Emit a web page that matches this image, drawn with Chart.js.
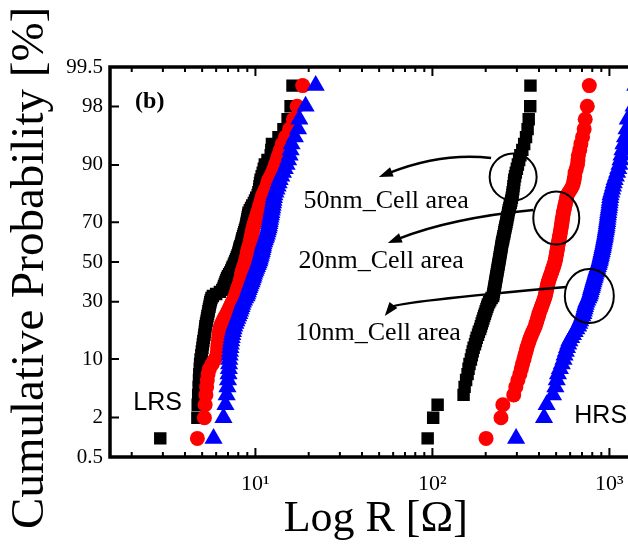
<!DOCTYPE html>
<html><head><meta charset="utf-8">
<script src="https://cdn.jsdelivr.net/npm/chart.js@4.4.1/dist/chart.umd.min.js"></script>
<style>
html,body{margin:0;padding:0;background:#fff;overflow:hidden;width:628px;height:546px}
#wrap{position:absolute;left:0;top:0;width:652px;height:546px}
</style>
</head><body>
<div id="wrap"><canvas id="c" width="652" height="546"></canvas></div>
<script>
// ---- Data: resistance values (ohm), sorted; cumulative probability from rank i/(n+1)
const lrsBlack = [2.9,4.7,4.72,4.75,4.78,4.8,4.82,4.85,4.87,4.9,4.95,4.98,5.02,5.05,5.08,5.12,5.15,5.18,5.2,5.22,
5.26,5.3,5.33,5.36,5.4,5.43,5.46,5.5,5.53,5.56,5.6,5.65,5.75,6.0,6.3,6.5,6.6,6.65,6.72,6.78,
6.85,6.92,7.0,7.1,7.2,7.3,7.38,7.45,7.55,7.62,7.7,7.78,7.85,7.92,8.0,8.05,8.1,8.15,8.22,8.3,
8.35,8.4,8.45,8.52,8.58,8.65,8.72,8.8,8.85,8.9,8.95,9.0,9.05,9.1,9.15,9.3,9.45,9.6,9.8,9.95,
10.1,10.3,10.4,10.5,10.55,10.62,10.7,10.85,11.0,11.15,11.3,11.7,12.2,12.3,12.4,13.5,14.4,15.2,15.8,16.2];
const lrsRed = [4.7,5.15,5.2,5.25,5.3,5.35,5.4,5.5,5.7,5.9,6.05,6.1,6.12,6.15,6.18,6.2,6.23,6.26,6.3,6.35,
6.45,6.55,6.65,6.78,6.9,7.0,7.1,7.2,7.3,7.4,7.5,7.6,7.7,7.77,7.84,7.9,7.97,8.05,8.12,8.2,
8.24,8.28,8.32,8.36,8.4,8.47,8.53,8.6,8.67,8.73,8.8,8.85,8.9,8.95,9.0,9.05,9.1,9.15,9.22,9.3,
9.35,9.4,9.45,9.5,9.55,9.6,9.65,9.7,9.78,9.86,9.95,10.03,10.12,10.2,10.3,10.4,10.5,10.6,10.7,10.8,
10.9,11.0,11.2,11.4,11.6,11.75,11.9,12.2,12.5,12.75,13.0,13.25,13.5,13.85,14.2,14.8,15.6,16.4,17.2,18.5];
const lrsBlue = [5.8,6.6,6.77,6.88,6.95,7.0,7.05,7.08,7.1,7.12,7.15,7.18,7.22,7.26,7.3,7.35,7.4,7.46,7.52,7.6,
7.7,7.8,7.9,8.0,8.1,8.18,8.26,8.34,8.42,8.5,8.62,8.75,8.9,8.98,9.06,9.14,9.22,9.3,9.4,9.5,
9.58,9.66,9.74,9.82,9.9,10.0,10.1,10.2,10.3,10.4,10.5,10.57,10.64,10.71,10.78,10.85,10.92,10.98,11.04,11.1,
11.2,11.3,11.4,11.5,11.6,11.68,11.76,11.85,11.92,11.98,12.04,12.1,12.17,12.24,12.3,12.37,12.44,12.51,12.58,12.65,
12.72,12.8,12.98,13.16,13.34,13.52,13.7,14.0,14.3,14.65,15.0,15.3,15.6,15.8,16.0,16.7,17.4,17.7,19.2,21.9];
const hrsBlack = [94,101,107,150,152,155,158,160,162,165,167,169,171,174,176,178,181,183,186,188,
190,192,194,196,198,200,202,204,206,209,212,216,220,221,222,223,224,225,226,227,
228,229,230,231,232,233,234,235,236,237,238,239,240,241,242,243,244,245,246,247,
248,250,251,252,254,255,256,258,259,261,262,264,265,267,268,270,272,274,277,279,
281,283,284,286,287,289,290,293,296,300,304,309,314,322,330,338,345,350,357,358];
const hrsRed = [201,244,250,288,296,304,312,318,323,329,333,338,342,347,352,357,363,369,375,381,
385,389,393,397,400,404,409,413,418,422,426,430,434,436,439,441,444,446,449,451,
455,459,463,467,472,475,479,483,487,490,494,496,498,500,503,505,507,509,511,513,
516,518,521,523,526,528,531,533,535,538,540,542,544,547,549,553,557,561,565,569,
573,577,590,605,618,626,632,636,640,650,660,664,668,680,690,705,720,730,750,770];
const hrsBlue = [297,427,442,480,495,504,512,525,538,550,558,567,576,585,594,608,622,636,650,665,
675,684,694,703,712,717,723,728,734,740,750,760,770,776,782,787,793,799,804,810,
816,822,828,834,840,846,853,860,867,873,880,885,890,895,900,905,910,915,920,925,
929,934,938,943,947,951,956,960,964,967,971,974,978,981,985,989,994,998,1002,1006,
1011,1015,1025,1036,1047,1058,1070,1087,1105,1122,1140,1155,1170,1185,1200,1225,1250,1270,1370,1400];

const yTickLabels = [0.5, 2, 10, 30, 50, 70, 90, 98, 99.5];
const xMajorTicks = [10, 100, 1000];
const xMajorLabels = ['10\u00B9', '10\u00B2', '10\u00B3'];
const xMinorTicks = [2,3,4,5,6,7,8,9,20,30,40,50,60,70,80,90,200,300,400,500,600,700,800,900];
const xRange = [1.508, 1518];

// annotation anchors: [x value, z (probit units)]
const ovals = [[285.8, 1.123, 23.5, 23.5],[500.9, 0.581, 23, 26.5],[770, -0.449, 24.5, 27]];
const arrows = [
  [[214.5, 1.374],[113, 1.45],[49.8, 1.123]],
  [[371, 0.687],[127.3, 0.581],[55.97, 0.251]],
  [[570.6, -0.330],[62.1, -0.528],[53.8, -0.713]]
];
const notes = [
  ['50nm_Cell area', 18.7, 0.713, '26px "Liberation Serif"'],
  ['20nm_Cell area', 17.5, -0.079, '26px "Liberation Serif"'],
  ['10nm_Cell area', 16.85, -1.030, '26px "Liberation Serif"'],
  ['(b)', 2.09, 2.034, 'bold 24px "Liberation Serif"'],
  ['LRS', 2.04, -1.955, '25px "Liberation Sans"'],
  ['HRS', 633.4, -2.127, '25px "Liberation Sans"']
];

function probit(p){
 const a=[-3.969683028665376e+01,2.209460984245205e+02,-2.759285104469687e+02,1.383577518672690e+02,-3.066479806614716e+01,2.506628277459239e+00];
 const b=[-5.447609879822406e+01,1.615858368580409e+02,-1.556989798598866e+02,6.680131188771972e+01,-1.328068155288572e+01];
 const c=[-7.784894002430293e-03,-3.223964580411365e-01,-2.400758277161838e+00,-2.549732539343734e+00,4.374664141464968e+00,2.938163982698783e+00];
 const d=[7.784695709041462e-03,3.224671290700398e-01,2.445134137142996e+00,3.754408661907416e+00];
 const pl=0.02425, ph=1-pl; let q,r;
 if(p<pl){q=Math.sqrt(-2*Math.log(p));return (((((c[0]*q+c[1])*q+c[2])*q+c[3])*q+c[4])*q+c[5])/((((d[0]*q+d[1])*q+d[2])*q+d[3])*q+1);}
 if(p<=ph){q=p-0.5;r=q*q;return (((((a[0]*r+a[1])*r+a[2])*r+a[3])*r+a[4])*r+a[5])*q/(((((b[0]*r+b[1])*r+b[2])*r+b[3])*r+b[4])*r+1);}
 q=Math.sqrt(-2*Math.log(1-p));return -(((((c[0]*q+c[1])*q+c[2])*q+c[3])*q+c[4])*q+c[5])/((((d[0]*q+d[1])*q+d[2])*q+d[3])*q+1);
}
function toPoints(vals){ const n=vals.length; return vals.map((v,i)=>({x:v, y:probit((i+1)/(n+1))})); }

function ds(label, vals, style, color, r, order){
  return {label, data: toPoints(vals), pointStyle: style, pointRadius: r, pointHoverRadius: r,
    backgroundColor: color, borderColor: color, borderWidth: 0, showLine: false, order};
}

const decor = {
  id: 'decor',
  afterDatasetsDraw(chart){
    const {ctx, chartArea: A, scales: {x, y}} = chart;
    const P = (xv, zv) => [x.getPixelForValue(xv), y.getPixelForValue(zv)];
    ctx.save();
    ctx.strokeStyle = '#000'; ctx.fillStyle = '#000';
    ctx.lineWidth = 2;
    ctx.beginPath();
    x.ticks.forEach(t => {
      const px = x.getPixelForValue(t.value);
      const len = xMajorTicks.includes(t.value) ? 9 : 5;
      ctx.moveTo(px, A.bottom); ctx.lineTo(px, A.bottom - len);
      ctx.moveTo(px, A.top); ctx.lineTo(px, A.top + len);
    });
    y.ticks.forEach(t => {
      const py = y.getPixelForValue(t.value);
      ctx.moveTo(A.left, py); ctx.lineTo(A.left + 9, py);
      ctx.moveTo(A.right, py); ctx.lineTo(A.right - 9, py);
    });
    ctx.stroke();
    ctx.lineWidth = 3.5;
    ctx.strokeRect(A.left, A.top, A.right - A.left, A.bottom - A.top);

    // ovals
    ctx.lineWidth = 2;
    ovals.forEach(o => {
      const [cx, cy] = P(o[0], o[1]);
      ctx.beginPath(); ctx.ellipse(cx, cy, o[2], o[3], 0, 0, Math.PI*2); ctx.stroke();
    });
    // arrows
    ctx.lineWidth = 2.5;
    arrows.forEach(a => {
      const s = P(a[0][0], a[0][1]), c = P(a[1][0], a[1][1]), t = P(a[2][0], a[2][1]);
      const ang = Math.atan2(t[1]-c[1], t[0]-c[0]);
      const L = 14, W = 5;
      const bx = t[0] - Math.cos(ang)*L*0.8, by = t[1] - Math.sin(ang)*L*0.8;
      ctx.beginPath(); ctx.moveTo(s[0], s[1]); ctx.quadraticCurveTo(c[0], c[1], bx, by); ctx.stroke();
      ctx.beginPath();
      ctx.moveTo(t[0], t[1]);
      ctx.lineTo(t[0] - Math.cos(ang)*L - Math.sin(ang)*W, t[1] - Math.sin(ang)*L + Math.cos(ang)*W);
      ctx.lineTo(t[0] - Math.cos(ang)*L + Math.sin(ang)*W, t[1] - Math.sin(ang)*L - Math.cos(ang)*W);
      ctx.closePath(); ctx.fill();
    });
    // texts
    ctx.textAlign = 'left'; ctx.textBaseline = 'alphabetic';
    notes.forEach(n => {
      const [px, py] = P(n[1], n[2]);
      ctx.font = n[3];
      ctx.fillText(n[0], px, py);
    });
    ctx.restore();
  }
};

new Chart(document.getElementById('c'), {
  type: 'scatter',
  data: { datasets: [
    ds('LRS 50nm', lrsBlack, 'rect', '#000000', 8.8, 3),
    ds('LRS 20nm', lrsRed, 'circle', '#ff0000', 7.5, 2),
    ds('LRS 10nm', lrsBlue, 'triangle', '#0000ff', 10.5, 1),
    ds('HRS 50nm', hrsBlack, 'rect', '#000000', 8.8, 3),
    ds('HRS 20nm', hrsRed, 'circle', '#ff0000', 7.5, 2),
    ds('HRS 10nm', hrsBlue, 'triangle', '#0000ff', 10.5, 1)
  ]},
  options: {
    responsive: false, animation: false, devicePixelRatio: 1,
    layout: { padding: { top: 67, right: 0, bottom: 0, left: 0 } },
    plugins: { legend: { display: false }, tooltip: { enabled: false } },
    scales: {
      x: {
        type: 'logarithmic', min: xRange[0], max: xRange[1],
        afterBuildTicks: s => {
          s.ticks = xMinorTicks.concat(xMajorTicks).sort((a,b)=>a-b)
            .filter(v => v >= s.min && v <= s.max).map(v => ({value: v}));
        },
        afterFit: s => { s.height = 89; },
        grid: { display: false, drawTicks: false }, border: { display: false },
        ticks: { autoSkip: false, maxRotation: 0, minRotation: 0, padding: 14, color: '#000',
          font: { family: 'Liberation Serif', size: 22 },
          callback: v => { const k = xMajorTicks.indexOf(v); return k >= 0 ? xMajorLabels[k] : ''; } },
        title: { display: true, text: 'Log R [\u03A9]', color: '#000',
          font: { family: 'Liberation Serif', size: 44 }, padding: { top: 0, bottom: 0 } }
      },
      y: {
        type: 'linear', min: probit(0.005), max: probit(0.995),
        afterBuildTicks: s => { s.ticks = yTickLabels.map(p => ({value: probit(p/100)})); },
        afterFit: s => { s.width = 110; },
        grid: { display: false, drawTicks: false }, border: { display: false },
        ticks: { autoSkip: false, padding: 7, color: '#000',
          font: { family: 'Liberation Serif', size: 21 },
          callback: (v, i) => String(yTickLabels[i]) },
        title: { display: true, text: 'Cumulative Probability [%] ', color: '#000',
          font: { family: 'Liberation Serif', size: 47 }, padding: { top: 2, bottom: 0 } }
      }
    }
  },
  plugins: [decor]
});
</script>
</body></html>
